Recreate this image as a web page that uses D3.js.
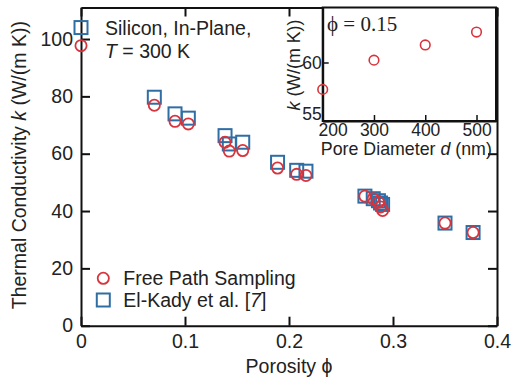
<!DOCTYPE html>
<meta charset="utf-8">
<title>Thermal conductivity vs porosity</title>
<script src="https://d3js.org/d3.v7.min.js"></script>
<style>
  body { margin: 0; background: #fff; }
  svg text { font-family: "Liberation Sans", Arial, sans-serif; fill: #222; }
</style>
<body>
<div id="chart"></div>
<script>
// porosity values (shared by both series)
var porosity = [0, 0.0705, 0.0904, 0.1032, 0.1385, 0.1426, 0.1555, 0.189, 0.2074, 0.2163,
                0.273, 0.281, 0.286, 0.288, 0.29, 0.35, 0.377];
// Free Path Sampling
var kFps = [97.7, 76.9, 71.3, 70.4, 64.0, 60.9, 61.1, 55.0, 52.8, 52.4,
            45.2, 44.3, 43.1, 41.4, 40.2, 35.8, 32.5];
// El-Kady et al. [7]
var kElKady = [104.0, 79.7, 73.9, 72.4, 66.3, 63.4, 64.0, 57.0, 54.2, 53.9,
               45.2, 44.3, 43.6, 42.8, 42.3, 35.8, 32.5];
var xTicks = [0, 0.1, 0.2, 0.3, 0.4];
var yTicks = [0, 20, 40, 60, 80, 100];

// inset: phi = 0.15
var poreDiameter = [200, 300, 400, 500];
var kInset = [57.7, 60.2, 61.5, 62.6];
var insetXTicks = [200, 300, 400, 500];
var insetYTicks = [55, 60];

var red = "#d8343d", blue = "#2f6ea5";
var fs = "19.5px";

var W = 513, H = 383;
var margin = {top: 7.5, right: 16, bottom: 57.3, left: 81};
var width = W - margin.left - margin.right,
    height = H - margin.top - margin.bottom;

var svg = d3.select("#chart").append("svg")
    .attr("width", W)
    .attr("height", H);

var g = svg.append("g")
    .attr("transform", "translate(" + margin.left + "," + margin.top + ")");

var x = d3.scaleLinear().domain([0, 0.4]).range([0, width]);
var y = d3.scaleLinear().domain([0, 111]).range([height, 0]);

var fmtX = function(d) { return d === 0 ? "0" : d3.format(".1f")(d); };

// axes (ticks point inward on all sides)
g.append("g")
  .attr("transform", "translate(0," + height + ")")
  .call(d3.axisBottom(x).tickValues(xTicks).tickSizeInner(-9).tickSizeOuter(0).tickPadding(8).tickFormat(fmtX));
g.append("g")
  .call(d3.axisTop(x).tickValues(xTicks).tickSizeInner(-9).tickSizeOuter(0).tickFormat(""));
g.append("g")
  .call(d3.axisLeft(y).tickValues(yTicks).tickSizeInner(-9).tickSizeOuter(0).tickPadding(8));
g.append("g")
  .attr("transform", "translate(" + width + ",0)")
  .call(d3.axisRight(y).tickValues(yTicks).tickSizeInner(-9).tickSizeOuter(0).tickFormat(""));

g.selectAll(".domain").attr("stroke", "#111").attr("stroke-width", 2);
g.selectAll(".tick line").attr("stroke", "#111").attr("stroke-width", 2);
g.selectAll(".tick text").attr("font-size", fs).attr("fill", "#222");

// axis titles
g.append("text")
  .attr("x", x(0.2))
  .attr("y", height + 47.3)
  .attr("text-anchor", "middle")
  .attr("font-size", fs)
  .text("Porosity ϕ");

var yl = g.append("text")
  .attr("transform", "translate(" + (-55) + "," + (y(56)) + ") rotate(-90)")
  .attr("text-anchor", "middle")
  .attr("font-size", fs);
yl.append("tspan").text("Thermal Conductivity ");
yl.append("tspan").attr("font-style", "italic").text("k");
yl.append("tspan").text(" (W/(m K))");

// data
g.append("g").selectAll("rect")
  .data(porosity.map(function(p, i) { return [p, kElKady[i]]; }))
  .join("rect")
  .attr("x", function(d) { return x(d[0]) - 6.5; })
  .attr("y", function(d) { return y(d[1]) - 6.5; })
  .attr("width", 13).attr("height", 13)
  .attr("fill", "none").attr("stroke", blue).attr("stroke-width", 2);

g.append("g").selectAll("circle")
  .data(porosity.map(function(p, i) { return [p, kFps[i]]; }))
  .join("circle")
  .attr("cx", function(d) { return x(d[0]); })
  .attr("cy", function(d) { return y(d[1]); })
  .attr("r", 5.6)
  .attr("fill", "none").attr("stroke", red).attr("stroke-width", 1.8);

// annotation
g.append("text").attr("x", 24).attr("y", 27.5).attr("font-size", fs).text("Silicon, In-Plane,");
var ann = g.append("text").attr("x", 24).attr("y", 50.5).attr("font-size", fs);
ann.append("tspan").attr("font-style", "italic").text("T");
ann.append("tspan").text(" = 300 K");

// legend
var leg = g.append("g").attr("transform", "translate(22.3,0)");
leg.append("circle").attr("cx", 0).attr("cy", 270.8).attr("r", 5.6)
  .attr("fill", "none").attr("stroke", red).attr("stroke-width", 1.8);
leg.append("text").attr("x", 20).attr("y", 277).attr("font-size", fs).text("Free Path Sampling");
leg.append("rect").attr("x", -6.5).attr("y", 286).attr("width", 13).attr("height", 13)
  .attr("fill", "none").attr("stroke", blue).attr("stroke-width", 2);
var lt = leg.append("text").attr("x", 20).attr("y", 299.5).attr("font-size", fs);
lt.append("tspan").text("El-Kady et al. [");
lt.append("tspan").attr("font-style", "italic").text("7");
lt.append("tspan").text("]");

// inset
var ix0 = 322.7, ix1 = 496, iy0 = 7.5, iy1 = 121;
var ix = d3.scaleLinear().domain([200, 538]).range([ix0, ix1]);
var iy = d3.scaleLinear().domain([55, 64.7]).range([iy1, iy0]);
var inset = svg.append("g");

inset.append("rect")
  .attr("x", ix0).attr("y", iy0).attr("width", ix1 - ix0).attr("height", iy1 - iy0)
  .attr("fill", "#fff").attr("stroke", "#111").attr("stroke-width", 2);

var ixa = inset.append("g")
  .attr("transform", "translate(0," + iy1 + ")")
  .call(d3.axisBottom(ix).tickValues(insetXTicks).tickSizeInner(-6).tickSizeOuter(0).tickPadding(3));
var iya = inset.append("g")
  .attr("transform", "translate(" + ix0 + ",0)")
  .call(d3.axisLeft(iy).tickValues(insetYTicks).tickSizeInner(-6).tickSizeOuter(0).tickPadding(1));
inset.selectAll(".domain").attr("stroke", "#111").attr("stroke-width", 2);
inset.selectAll(".tick line").attr("stroke", "#111").attr("stroke-width", 1.5);
inset.selectAll(".tick text").attr("font-size", "17.5px").attr("fill", "#222");
// first x label sits right of the corner, as in the original
ixa.selectAll(".tick text").filter(function(d) { return d === 200; }).attr("dx", 10);
iya.selectAll(".tick text").filter(function(d) { return d === 55; }).attr("dy", "-0.1em");

inset.append("g").selectAll("circle")
  .data(poreDiameter.map(function(p, i) { return [p, kInset[i]]; }))
  .join("circle")
  .attr("cx", function(d) { return ix(d[0]); })
  .attr("cy", function(d) { return iy(d[1]); })
  .attr("r", 4.8)
  .attr("fill", "none").attr("stroke", red).attr("stroke-width", 1.6);

var ixl = inset.append("text")
  .attr("x", (ix0 + ix1) / 2 - 3)
  .attr("y", 155)
  .attr("text-anchor", "middle")
  .attr("font-size", "17.8px");
ixl.append("tspan").text("Pore Diameter ");
ixl.append("tspan").attr("font-style", "italic").text("d");
ixl.append("tspan").text(" (nm)");

var iyl = inset.append("text")
  .attr("transform", "translate(300," + 65 + ") rotate(-90)")
  .attr("text-anchor", "middle")
  .attr("font-size", "17.8px");
iyl.append("tspan").attr("font-style", "italic").text("k");
iyl.append("tspan").text(" (W/(m K))");

inset.append("text")
  .attr("x", 327)
  .attr("y", 31)
  .attr("font-size", "21px")
  .style("font-family", "'Liberation Serif', 'Times New Roman', serif")
  .text("ϕ = 0.15");
</script>
</body>
